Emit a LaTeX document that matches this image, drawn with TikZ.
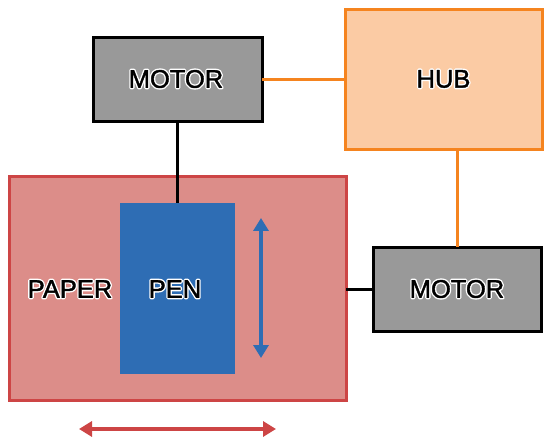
\documentclass[tikz,border=0pt]{standalone}
\usepackage{fontspec}
\setmainfont{Liberation Sans}
\usetikzlibrary{arrows.meta}
\definecolor{motorgray}{HTML}{999999}
\definecolor{hubfill}{HTML}{FBCBA4}
\definecolor{hubline}{HTML}{F5841F}
\definecolor{paperfill}{HTML}{DC8D89}
\definecolor{paperline}{HTML}{CD4545}
\definecolor{penblue}{HTML}{2E6DB4}
\newcommand{\halotxt}[1]{\leavevmode\rlap{\special{pdf:code 1 Tr 3.2 w 1 1 1 RG 1 j}#1}\special{pdf:code 2 Tr 0.4 w 0 0 0 RG 1 j}#1\special{pdf:code 0 Tr 1 w 0 j}}
\tikzset{
  box/.style={rectangle, line width=3pt, inner sep=0pt, outer sep=0pt},
  lbl/.style={font=\fontsize{25.5}{30}\selectfont, text=black, inner sep=0pt},
  conn/.style={line width=3pt},
  dbl/.style={line width=4pt, {Triangle[length=13pt,width=15pt]}-{Triangle[length=13pt,width=15pt]}}
}
\begin{document}
\begin{tikzpicture}[x=1pt,y=-1pt]
\useasboundingbox (0,0) rectangle (550,444);
\node[box, draw=black, fill=motorgray, minimum width=169pt, minimum height=84pt] (motorA) at (177.5,80) {};
\node[box, draw=hubline, fill=hubfill, minimum width=197pt, minimum height=140pt] (hub) at (443.5,80) {};
\node[box, draw=black, fill=motorgray, minimum width=168pt, minimum height=84pt] (motorB) at (457,289) {};
\node[box, draw=paperline, fill=paperfill, minimum width=337pt, minimum height=223pt] (paper) at (177.5,288.5) {};
\node[box, fill=penblue, minimum width=115pt, minimum height=171pt] (pen) at (177.5,288.5) {};
\draw[conn, hubline] (motorA.east) -- (motorA.east -| hub.west);
\draw[conn, hubline] (motorB.north |- hub.south) -- (motorB.north);
\draw[conn, black] (motorA.south) -- (pen.north);
\draw[conn, black] (paper.east |- motorB.west) -- (motorB.west);
\node[lbl] (tmotorA) at (176,79) {\halotxt{MOTOR}};
\node[lbl] (thub) at (443.5,79) {\halotxt{HUB}};
\node[lbl] (tmotorB) at (457,289) {\halotxt{MOTOR}};
\node[lbl] (tpaper) at (70,289) {\halotxt{PAPER}};
\node[lbl] (tpen) at (175,289) {\halotxt{PEN}};
\coordinate (vtop) at (261,218);
\coordinate (vbot) at (261,358);
\draw[dbl, penblue] (vtop) -- (vbot);
\coordinate (hleft) at (79,429);
\coordinate (hright) at (276,429);
\draw[dbl, paperline] (hleft) -- (hright);
\end{tikzpicture}
\end{document}
